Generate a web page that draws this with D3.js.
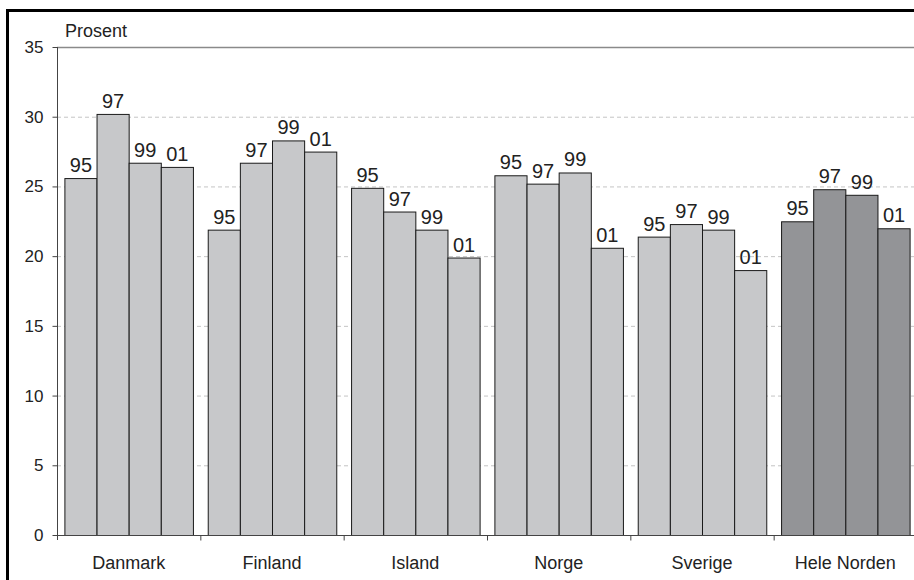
<!DOCTYPE html>
<html>
<head>
<meta charset="utf-8">
<script src="https://cdn.jsdelivr.net/npm/d3@7"></script>
<style>
  html, body { margin: 0; padding: 0; background: #fff; }
  svg { display: block; }
  text { font-family: "Liberation Sans", Arial, sans-serif; fill: #222; }
</style>
</head>
<body>
<svg id="chart" width="914" height="580"></svg>
<script>
// Share (percent) by country and survey year
const categories = ["Danmark", "Finland", "Island", "Norge", "Sverige", "Hele Norden"];
const years = ["95", "97", "99", "01"];
const values = {
  "Danmark":     [25.6, 30.2, 26.7, 26.4],
  "Finland":     [21.9, 26.7, 28.3, 27.5],
  "Island":      [24.9, 23.2, 21.9, 19.9],
  "Norge":       [25.8, 25.2, 26.0, 20.6],
  "Sverige":     [21.4, 22.3, 21.9, 19.0],
  "Hele Norden": [22.5, 24.8, 24.4, 22.0]
};
const yTicks = [0, 5, 10, 15, 20, 25, 30, 35];

const svg = d3.select("#chart");
const W = 914, H = 580;
const plotLeft = 57, plotRight = 917, plotTop = 47, plotBottom = 535;

// outer frame
svg.append("rect").attr("x", 7.5).attr("y", 10.5).attr("width", W + 10).attr("height", H + 10)
  .attr("fill", "none").attr("stroke", "#000").attr("stroke-width", 3);

const x = d3.scaleBand().domain(categories).range([plotLeft, plotRight]).padding(0);
const xYear = d3.scaleBand().domain(years).range([7.4, x.bandwidth() - 7.4]).padding(0);
const y = d3.scaleLinear().domain([0, 35]).range([plotBottom, plotTop]);

// gridlines
svg.append("g").selectAll("line").data(yTicks.filter(t => t > 0 && t < 35)).join("line")
  .attr("x1", plotLeft).attr("x2", W).attr("y1", d => y(d) + 0.5).attr("y2", d => y(d) + 0.5)
  .attr("stroke", "#c4c4c4").attr("stroke-width", 1).attr("stroke-dasharray", "4,3");
// top edge of plot area
svg.append("line").attr("x1", plotLeft).attr("x2", W).attr("y1", y(35) + 0.5).attr("y2", y(35) + 0.5)
  .attr("stroke", "#8a8a8a").attr("stroke-width", 1.5);

// bars
const groups = svg.append("g").selectAll("g").data(categories).join("g")
  .attr("transform", d => `translate(${x(d)},0)`);
groups.selectAll("rect").data(c => values[c].map((v, i) => ({ c, v, yr: years[i] }))).join("rect")
  .attr("x", d => xYear(d.yr) + 0.5)
  .attr("y", d => y(d.v) + 0.5)
  .attr("width", xYear.bandwidth())
  .attr("height", d => y(0) - y(d.v))
  .attr("fill", d => d.c === "Hele Norden" ? "#939497" : "#c7c8ca")
  .attr("stroke", "#1a1a1a").attr("stroke-width", 1);
groups.selectAll("text").data(c => values[c].map((v, i) => ({ c, v, yr: years[i] }))).join("text")
  .attr("x", d => xYear(d.yr) + xYear.bandwidth() / 2 + 0.5)
  .attr("y", d => y(d.v) - 6)
  .attr("text-anchor", "middle")
  .style("font-size", "20px")
  .text(d => d.yr);

// y axis
const yAxis = svg.append("g").attr("transform", `translate(${plotLeft + 0.5},0)`)
  .call(d3.axisLeft(y).tickValues(yTicks).tickSize(5).tickPadding(9).tickFormat(d3.format("d")));
yAxis.select(".domain").attr("stroke", "#444").attr("d", `M0,${plotTop}V${plotBottom + 5}`);
yAxis.selectAll(".tick line").attr("stroke", "#444");
yAxis.selectAll(".tick text").style("font-size", "17px").attr("fill", "#222");

// x axis with ticks at category boundaries
const xAxis = svg.append("g").attr("transform", `translate(0,${plotBottom + 0.5})`);
xAxis.append("line").attr("x1", plotLeft).attr("x2", W).attr("stroke", "#444");
xAxis.selectAll("line.tk").data(categories.slice(1)).join("line").attr("class", "tk")
  .attr("x1", d => x(d) + 0.5).attr("x2", d => x(d) + 0.5).attr("y1", 0).attr("y2", 5)
  .attr("stroke", "#444");
xAxis.selectAll("text").data(categories).join("text")
  .attr("x", d => x(d) + x.bandwidth() / 2)
  .attr("y", 33)
  .attr("text-anchor", "middle")
  .style("font-size", "18px")
  .text(d => d);

// unit label
svg.append("text").attr("x", 65).attr("y", 37).style("font-size", "18px").text("Prosent");
</script>
</body>
</html>
